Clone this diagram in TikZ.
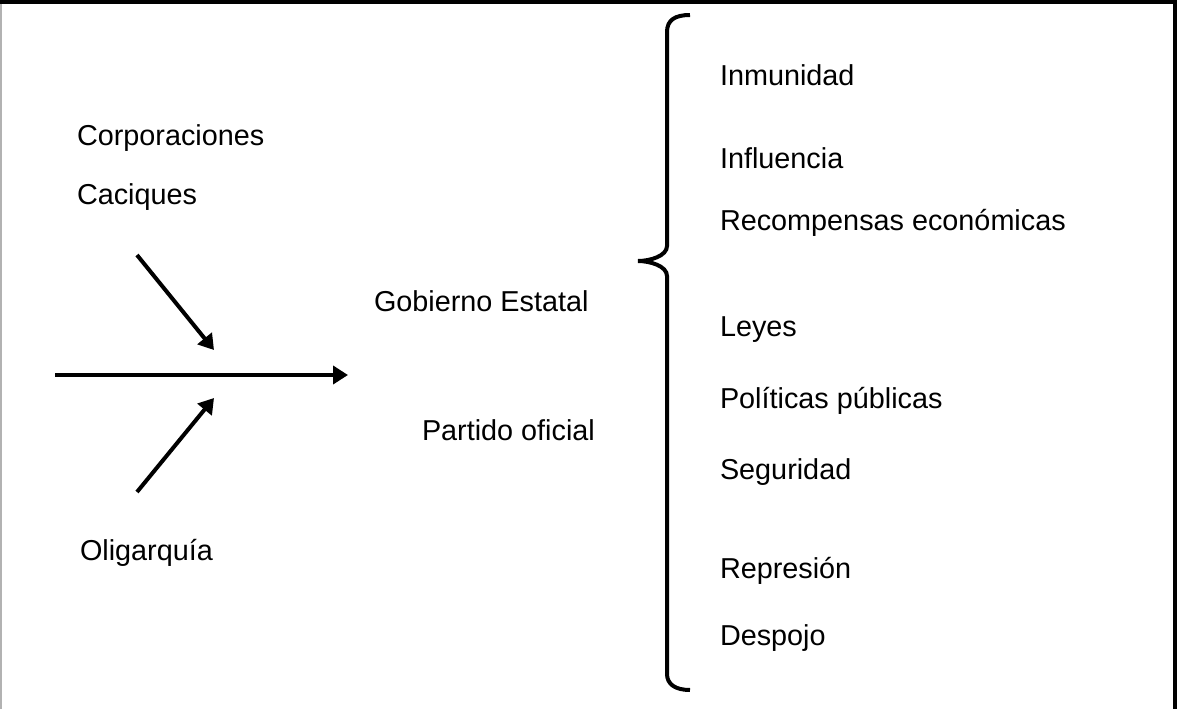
\documentclass[tikz,border=0pt]{standalone}
\usepackage{fontspec}
\setmainfont{Liberation Sans}
\usetikzlibrary{arrows.meta, positioning}

\begin{document}
\begin{tikzpicture}[x=1pt, y=-1pt, line width=4pt, >={Triangle[length=15pt,width=18pt]},
  lbl/.style={anchor=base west, inner sep=0pt, font=\fontsize{28.8}{34}\selectfont}]
  \useasboundingbox (0,0) rectangle (1177,709);

  % Frame
  \draw[line width=1.5pt, gray!60] (0.75,0) -- (0.75,709);
  \draw (0,2) -- (1177,2);
  \draw (1175,0) -- (1175,709);

  % Left side
  \node[lbl] (corp) at (75,145) {Corporaciones};
  \node[lbl] (caci) at (75,204) {Caciques};
  \node[lbl] (olig) at (78,560) {Oligarquía};

  % Arrows
  \coordinate (inA) at (137,255);
  \coordinate (inAend) at (214,350);
  \coordinate (inB) at (137,492);
  \coordinate (inBend) at (214,398);
  \coordinate (axis) at (55,375);
  \coordinate (axisend) at (348,375);
  \draw[->] (inA) -- (inAend);
  \draw[->] (inB) -- (inBend);
  \draw[->] (axis) -- (axisend);

  % Middle
  \node[lbl] (gob) at (372,311) {Gobierno Estatal};
  \node[lbl] (part) at (420,440) {Partido oficial};

  % Brace
  \draw (690,15) .. controls (675,15) and (667,20) .. (667,32) -- (667,246)
    .. controls (667,256) and (650,261) .. (638,261)
    .. controls (650,261) and (667,266) .. (667,276) -- (667,674)
    .. controls (667,684) and (675,690) .. (690,690);

  % Right side
  \node[lbl] (inmu) at (718,85) {Inmunidad};
  \node[lbl] (infl) at (718,168) {Influencia};
  \node[lbl] (reco) at (718,230) {Recompensas económicas};
  \node[lbl] (leye) at (718,336) {Leyes};
  \node[lbl] (poli) at (718,408) {Políticas públicas};
  \node[lbl] (segu) at (718,479) {Seguridad};
  \node[lbl] (repr) at (718,578) {Represión};
  \node[lbl] (desp) at (718,645) {Despojo};
\end{tikzpicture}
\end{document}
